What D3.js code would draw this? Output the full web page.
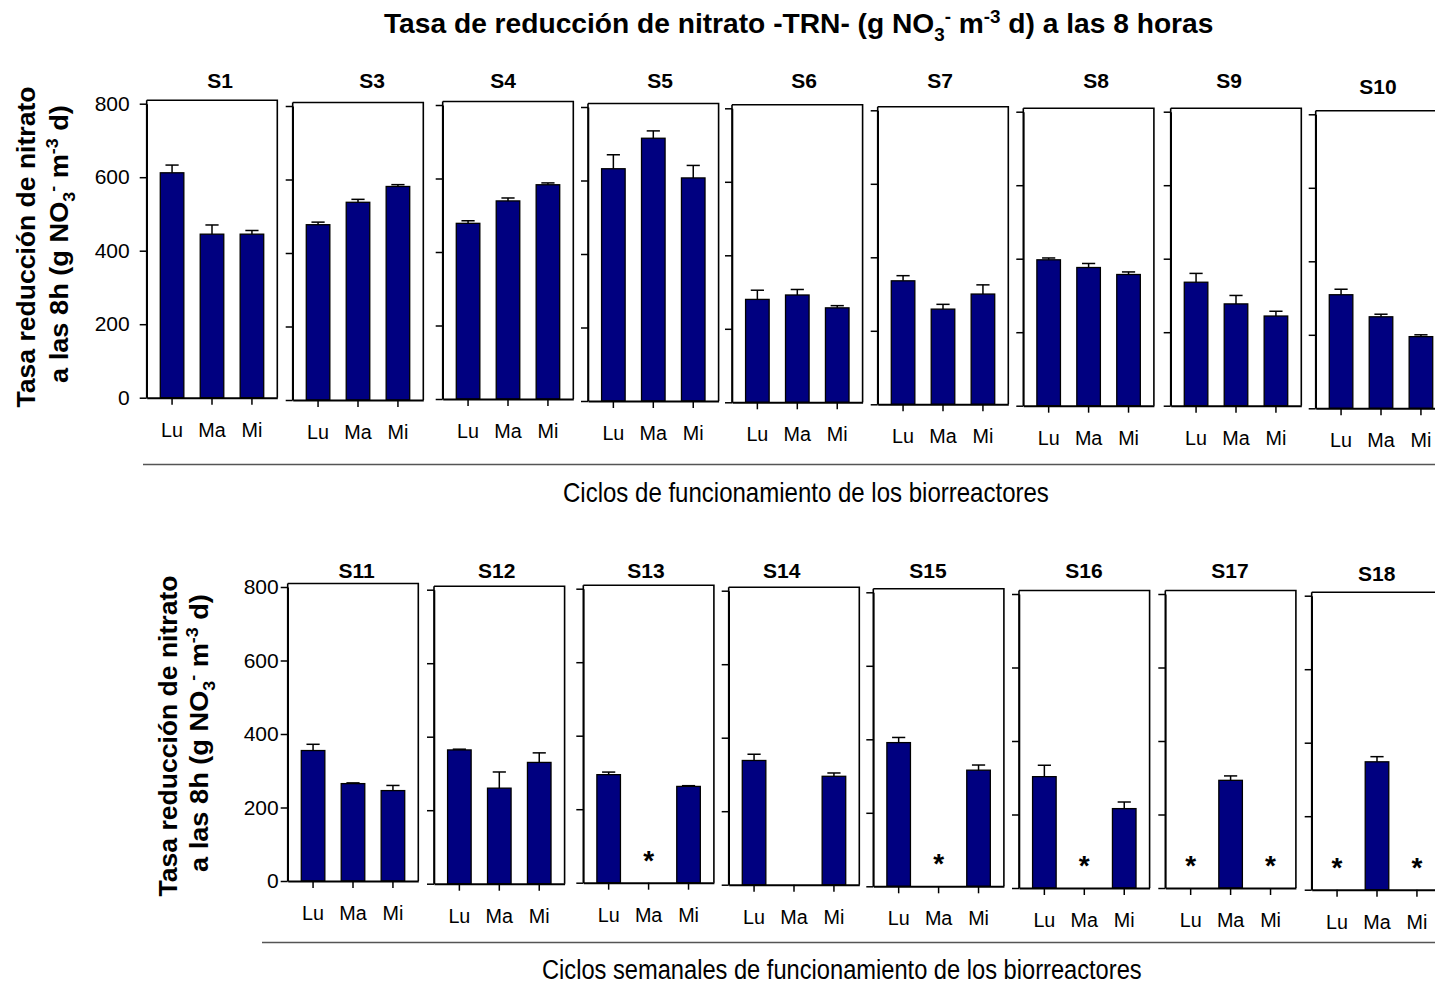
<!DOCTYPE html>
<html><head><meta charset="utf-8">
<script src="https://cdn.jsdelivr.net/npm/d3@7"></script>
<style>
body{margin:0;background:#fff;}
svg{display:block;font-family:"Liberation Sans",Arial,sans-serif;}
</style>
</head><body>
<svg id="chart" width="1435" height="989"></svg>
<script>
// ---------- data ----------
const categories = ["Lu", "Ma", "Mi"];
const yTicks = [0, 200, 400, 600, 800];

const topPanels = ["S1", "S3", "S4", "S5", "S6", "S7", "S8", "S9", "S10"];
const topMeans = [
  [612, 445, 445],
  [477, 538, 581],
  [478, 539, 583],
  [632, 715, 607],
  [280, 292, 257],
  [336, 259, 300],
  [397, 376, 357],
  [336, 277, 244],
  [309, 249, 195]
];
const topErrors = [
  [21, 25, 10],
  [7, 8, 5],
  [7, 8, 5],
  [38, 20, 34],
  [25, 15, 6],
  [14, 13, 25],
  [5, 11, 7],
  [24, 23, 13],
  [15, 7, 5]
];
const topMarks = [
  ["", "", ""], ["", "", ""], ["", "", ""], ["", "", ""], ["", "", ""],
  ["", "", ""], ["", "", ""], ["", "", ""], ["", "", ""]
];

const bottomPanels = ["S11", "S12", "S13", "S14", "S15", "S16", "S17", "S18"];
const bottomMeans = [
  [355, 265, 246],
  [364, 260, 330],
  [294, null, 262],
  [338, null, 295],
  [391, null, 316],
  [303, null, 216],
  [null, 293, null],
  [null, 348, null]
];
const bottomErrors = [
  [17, 2, 14],
  [2, 44, 26],
  [7, 0, 2],
  [17, 0, 9],
  [14, 0, 14],
  [31, 0, 18],
  [0, 12, 0],
  [0, 14, 0]
];
const bottomMarks = [
  ["", "", ""], ["", "", ""], ["", "*", ""], ["", "", ""],
  ["", "*", ""], ["", "*", ""], ["*", "", "*"], ["*", "", "*"]
];

// ---------- layout (hand-placed panels, as in the original composite) ----------
const topLeft   = [146.7, 292.7, 442.7, 588, 732, 877.7, 1023.3, 1170.7, 1315.7];
const topZero   = [397.7, 400, 399, 401, 402.3, 404.3, 405.7, 405.7, 408.3];
const topTitleX = [220, 372, 503, 660, 804, 940, 1096, 1229, 1378];
const topTitleY = [88, 88, 88, 88, 88, 88, 88, 88, 94];

const botLeft   = [287.7, 434, 583.3, 728.7, 873.3, 1019, 1165.3, 1311.7];
const botZero   = [881, 883.7, 882.7, 884.7, 886.3, 888, 888, 889.7];
const botTitleX = [356.7, 496.7, 646, 781.7, 928, 1084, 1230, 1376.7];
const botTitleY = [578, 578, 578, 578, 578, 578, 578, 581];

const PANEL_W = 130.6;
const PLOT_H = 294;
const BAR_COLOR = "#000080";

const svg = d3.select("#chart");

function drawPanel(name, means, errs, marks, L, y0, tx, ty, showLabels, labelPad) {
  const x = d3.scaleBand().domain(categories).range([L, L + PANEL_W])
    .paddingInner(0.41).paddingOuter(0.34);
  const y = d3.scaleLinear().domain([0, 800]).range([y0, y0 - PLOT_H]);
  const g = svg.append("g");

  // bars
  const rows = categories.map((c, i) => ({c, v: means[i], e: errs[i], m: marks[i]}));
  const withBar = rows.filter(d => d.v != null);
  g.selectAll("rect.bar").data(withBar).join("rect")
    .attr("class", "bar")
    .attr("x", d => x(d.c)).attr("width", x.bandwidth())
    .attr("y", d => y(d.v)).attr("height", d => y(0) - y(d.v))
    .attr("fill", BAR_COLOR).attr("stroke", "#000").attr("stroke-width", 1.3);

  // error bars (upper only)
  const cap = x.bandwidth() * 0.28;
  const eg = g.selectAll("g.err").data(withBar.filter(d => d.e > 0)).join("g")
    .attr("class", "err").attr("stroke", "#000").attr("stroke-width", 1.5);
  eg.append("line")
    .attr("x1", d => x(d.c) + x.bandwidth() / 2).attr("x2", d => x(d.c) + x.bandwidth() / 2)
    .attr("y1", d => y(d.v)).attr("y2", d => y(d.v + d.e));
  eg.append("line")
    .attr("x1", d => x(d.c) + x.bandwidth() / 2 - cap).attr("x2", d => x(d.c) + x.bandwidth() / 2 + cap)
    .attr("y1", d => y(d.v + d.e)).attr("y2", d => y(d.v + d.e));

  // asterisks for missing values
  g.selectAll("text.mark").data(rows.filter(d => d.m)).join("text")
    .attr("class", "mark")
    .attr("x", d => x(d.c) + x.bandwidth() / 2).attr("y", y(0) - 13)
    .attr("text-anchor", "middle").attr("font-size", 28).attr("font-weight", "bold")
    .text(d => d.m);

  // frame
  const top = y(800) - 3.5;
  g.append("path")
    .attr("d", `M${L},${top}H${L + PANEL_W}V${y0}`)
    .attr("fill", "none").attr("stroke", "#000").attr("stroke-width", 1.6);
  g.append("line").attr("x1", L).attr("x2", L).attr("y1", top).attr("y2", y0)
    .attr("stroke", "#000").attr("stroke-width", 1.6);

  // y axis
  const ya = g.append("g").attr("transform", `translate(${L},0)`)
    .call(d3.axisLeft(y).tickValues(yTicks).tickSize(7).tickSizeOuter(0)
      .tickPadding(labelPad).tickFormat(showLabels ? d3.format("d") : () => ""));
  ya.select(".domain").attr("stroke", "#000").attr("stroke-width", 1.6);
  ya.selectAll(".tick line").attr("stroke", "#000").attr("stroke-width", 1.5);
  ya.selectAll(".tick text").attr("font-size", 21).attr("fill", "#000")
    .attr("font-family", "Liberation Sans, Arial, sans-serif");

  // x axis
  const xa = g.append("g").attr("transform", `translate(0,${y0})`)
    .call(d3.axisBottom(x).tickSize(7).tickSizeOuter(0).tickPadding(17));
  xa.select(".domain").attr("stroke", "#000").attr("stroke-width", 2);
  xa.selectAll(".tick line").attr("stroke", "#000").attr("stroke-width", 1.5);
  xa.selectAll(".tick text").attr("font-size", 21).attr("fill", "#000")
    .attr("font-family", "Liberation Sans, Arial, sans-serif")
    .attr("transform", "scale(0.94,1)");

  // panel title
  svg.append("text").attr("x", tx).attr("y", ty).attr("text-anchor", "middle")
    .attr("font-size", 21).attr("font-weight", "bold").text(name);
}

topPanels.forEach((p, i) => drawPanel(p, topMeans[i], topErrors[i], topMarks[i],
  topLeft[i], topZero[i], topTitleX[i], topTitleY[i], i === 0, 10));
bottomPanels.forEach((p, i) => drawPanel(p, bottomMeans[i], bottomErrors[i], bottomMarks[i],
  botLeft[i], botZero[i], botTitleX[i], botTitleY[i], i === 0, 2));

// ---------- helper: rich text with NO3- and m-3 ----------
function chemText(sel, before, after, size) {
  const s = Math.round(size * 0.66);
  sel.append("tspan").text(before + "NO");
  sel.append("tspan").attr("font-size", s).attr("dy", size * 0.28).text("3");
  sel.append("tspan").attr("font-size", s).attr("dy", -size * 0.65).text("-");
  sel.append("tspan").attr("dy", size * 0.37).text(" m");
  sel.append("tspan").attr("font-size", s).attr("dy", -size * 0.37).text("-3");
  sel.append("tspan").attr("dy", size * 0.37).text(after);
}

function fit(sel, cx, cy, target, rotate) {
  const bb = sel.node().getBBox();
  const sx = target / bb.width;
  sel.attr("transform",
    `translate(${cx},${cy})` + (rotate ? " rotate(-90)" : "") +
    ` scale(${sx},1) translate(${-(bb.x + bb.width / 2)},0)`);
}

// main title
const title = svg.append("text").attr("x", 0).attr("y", 0)
  .attr("font-size", 27).attr("font-weight", "bold");
chemText(title, "Tasa de reducción de nitrato -TRN- (g ", " d) a las 8 horas", 27);
fit(title, 799, 33, 830, false);

// y-axis titles
function yTitle(cx1, cx2, cy) {
  const l1 = svg.append("text").attr("x", 0).attr("y", 0)
    .attr("font-size", 26).attr("font-weight", "bold").text("Tasa reducción de nitrato");
  fit(l1, cx1, cy, 321, true);
  const l2 = svg.append("text").attr("x", 0).attr("y", 0)
    .attr("font-size", 26).attr("font-weight", "bold");
  chemText(l2, "a las 8h (g ", " d)", 26);
  fit(l2, cx2, cy - 3, 278, true);
}
yTitle(35, 68, 247);
yTitle(177, 208, 736);

// dividers and x titles
svg.append("line").attr("x1", 143).attr("x2", 1435).attr("y1", 464.5).attr("y2", 464.5)
  .attr("stroke", "#555").attr("stroke-width", 1.5);
svg.append("line").attr("x1", 262).attr("x2", 1435).attr("y1", 942.5).attr("y2", 942.5)
  .attr("stroke", "#555").attr("stroke-width", 1.5);

const xt1 = svg.append("text").attr("x", 0).attr("y", 0).attr("font-size", 27)
  .text("Ciclos de funcionamiento de los biorreactores");
fit(xt1, 806, 501.5, 486, false);
const xt2 = svg.append("text").attr("x", 0).attr("y", 0).attr("font-size", 27)
  .text("Ciclos semanales de funcionamiento de los biorreactores");
fit(xt2, 842, 979, 600, false);
</script>
</body></html>
